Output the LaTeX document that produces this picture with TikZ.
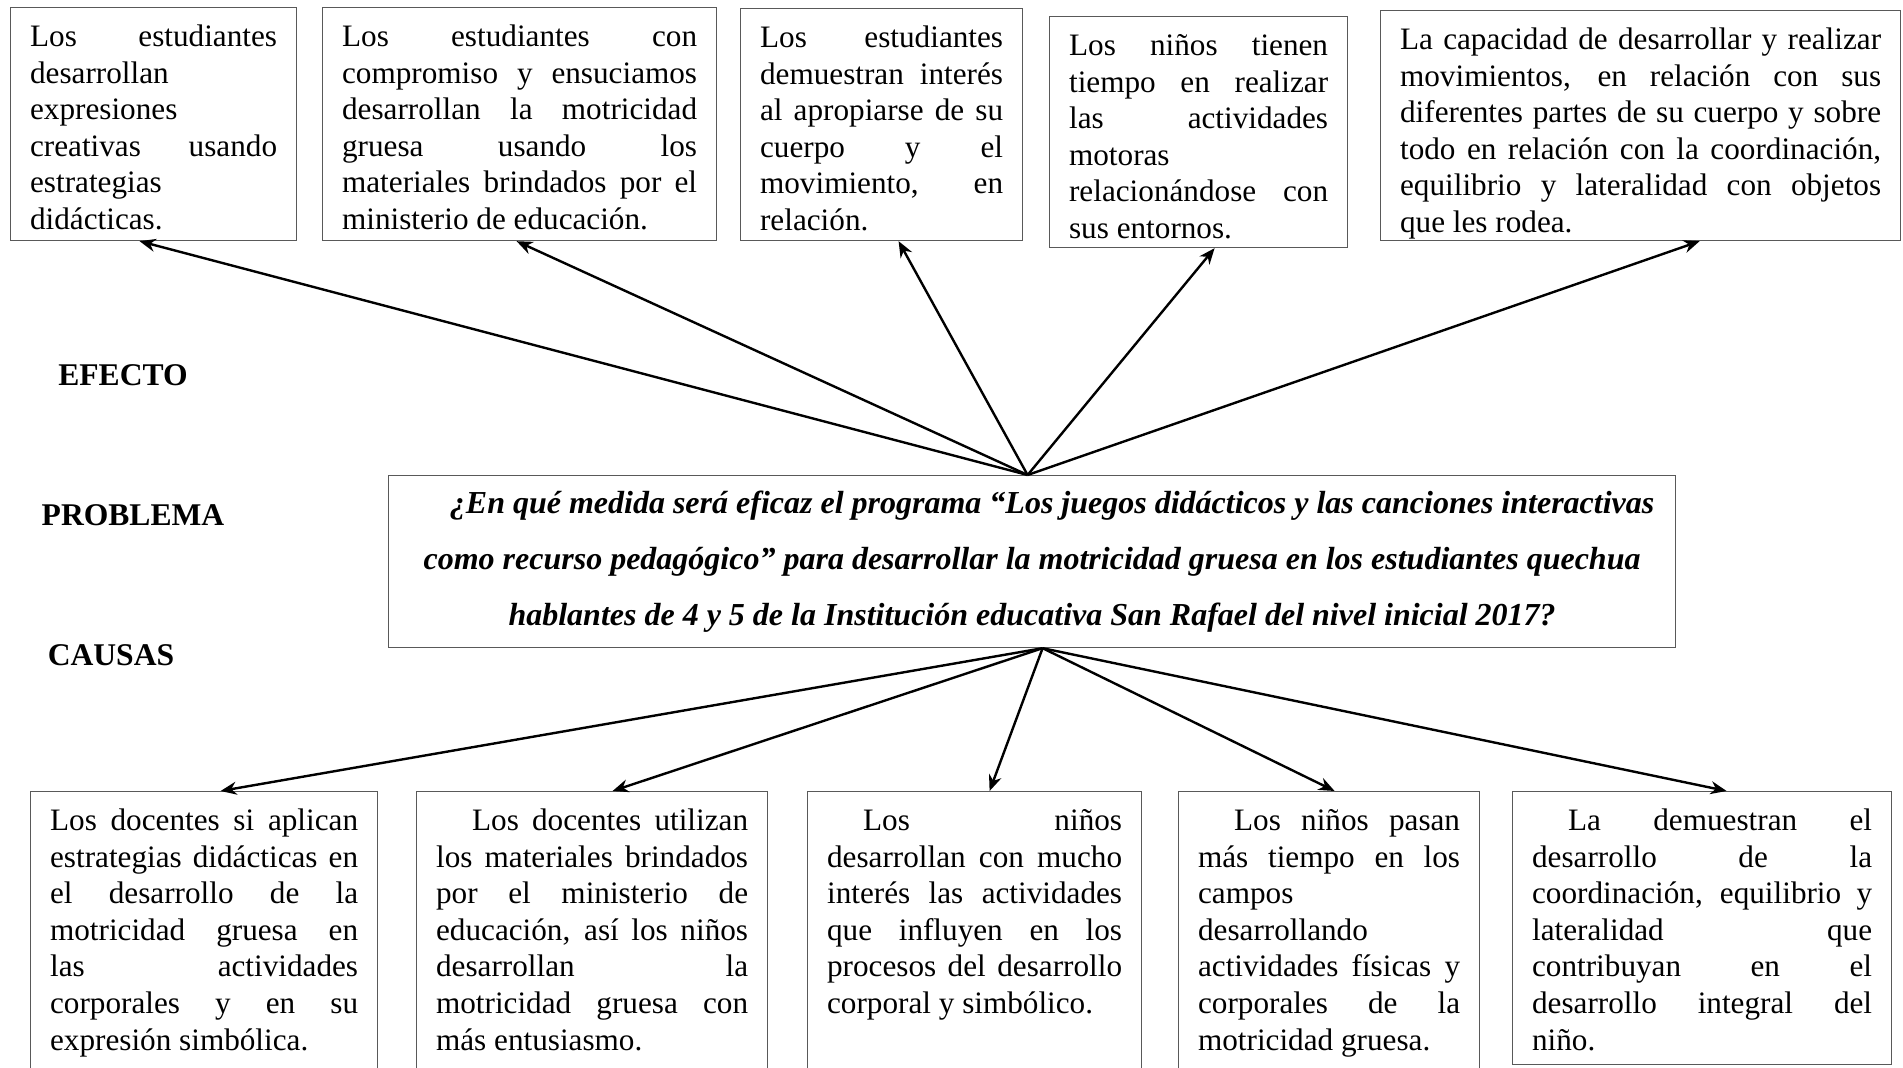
\documentclass[tikz,border=0pt]{standalone}
\usepackage{fontspec}
\setmainfont{Liberation Serif}
\usetikzlibrary{arrows.meta, positioning}
% text block of a box: width, height, text
\newcommand{\caja}[3]{\parbox[t][#2][t]{#1}{\fontsize{15.6}{18.3}\selectfont\rule{0pt}{17.5pt}#3}}
\newcommand{\sangria}{\hspace*{18pt}}
\hyphenpenalty=10000 \exhyphenpenalty=10000
\tolerance=9999 \hbadness=10000

\begin{document}
\begin{tikzpicture}[
    x=0.5pt, y=-0.5pt,
    every node/.style={font=\fontsize{15.6}{18.3}\selectfont},
    % Box styles
    efectobox/.style={
      rectangle, draw=black!65, line width=0.6pt,
      anchor=north west, inner xsep=9.75pt, inner ysep=2pt
    },
    causabox/.style={
      rectangle, draw=black!65, line width=0.6pt,
      anchor=north west, inner xsep=9.75pt, inner ysep=2pt
    },
    problembox/.style={
      rectangle, draw=black!65, line width=0.6pt,
      anchor=north west, inner xsep=1.75pt, inner ysep=2pt
    },
    etiqueta/.style={font=\fontsize{15.8}{18.3}\selectfont\bfseries},
    % Arrow style
    arr/.style={-{Stealth[length=8pt, width=6.5pt]}, line width=1.2pt}
  ]
  \useasboundingbox (0,0) rectangle (1903,1068);
  \clip (0,0) rectangle (1903,1068);

  % ============ Efectos (top) ============
  \node[efectobox] (t1) at (10,7) {\caja{123.5pt}{112.5pt}{%
    Los estudiantes\linebreak desarrollan\linebreak expresiones\linebreak
    creativas usando\linebreak estrategias\linebreak didácticas.}};
  \node[efectobox] (t2) at (322,7) {\caja{177.5pt}{112.5pt}{%
    Los estudiantes con\linebreak compromiso y ensuciamos\linebreak
    desarrollan la motricidad\linebreak gruesa usando los\linebreak
    materiales brindados por el\linebreak ministerio de educación.}};
  \node[efectobox] (t3) at (740,8) {\caja{121.5pt}{112pt}{%
    Los estudiantes\linebreak demuestran interés\linebreak al apropiarse de su\linebreak
    cuerpo y el\linebreak movimiento, en\linebreak relación.}};
  \node[efectobox] (t4) at (1049,16) {\caja{129.5pt}{111.5pt}{%
    Los niños tienen\linebreak tiempo en realizar\linebreak las actividades\linebreak
    motoras\linebreak relacionándose con\linebreak sus entornos.}};
  \node[efectobox] (t5) at (1380,10) {\caja{240.5pt}{111pt}{%
    La capacidad de desarrollar y realizar\linebreak movimientos, en relación con sus\linebreak
    diferentes partes de su cuerpo y sobre\linebreak todo en relación con la coordinación,\linebreak
    equilibrio y lateralidad con objetos\linebreak que les rodea.}};

  % ============ Labels ============
  \node[etiqueta] (efecto) at (123,375) {EFECTO};
  \node[etiqueta] (problema) at (133,515) {PROBLEMA};
  \node[etiqueta] (causas) at (111,655) {CAUSAS};

  % ============ Problema (middle) ============
  \node[problembox] (prob) at (388,475) {\parbox[t][82pt][t]{640pt}{%
    \fontsize{16}{28}\selectfont\bfseries\itshape\centering\rule{0pt}{17pt}%
    \hspace*{20pt}¿En qué medida será eficaz el programa “Los juegos didácticos y las canciones interactivas\\
    como recurso pedagógico” para desarrollar la motricidad gruesa en los estudiantes quechua\\
    hablantes de 4 y 5 de la Institución educativa San Rafael del nivel inicial 2017?}};

  % ============ Causas (bottom) ============
  \node[causabox] (b1) at (30,791) {\caja{154pt}{140.5pt}{%
    Los docentes si aplican\linebreak estrategias didácticas en\linebreak
    el desarrollo de la\linebreak motricidad gruesa en\linebreak las actividades\linebreak
    corporales y en su\linebreak expresión simbólica.}};
  \node[causabox] (b2) at (416,791) {\caja{156pt}{140.5pt}{%
    \sangria Los docentes utilizan\linebreak los materiales brindados\linebreak
    por el ministerio de\linebreak educación, así los niños\linebreak desarrollan la\linebreak
    motricidad gruesa con\linebreak más entusiasmo.}};
  \node[causabox] (b3) at (807,791) {\caja{147.5pt}{140.5pt}{%
    \sangria Los niños\linebreak desarrollan con mucho\linebreak interés las actividades\linebreak
    que influyen en los\linebreak procesos del desarrollo\linebreak corporal y simbólico.}};
  \node[causabox] (b4) at (1178,791) {\caja{131pt}{140.5pt}{%
    \sangria Los niños pasan\linebreak más tiempo en los\linebreak campos\linebreak
    desarrollando\linebreak actividades físicas y\linebreak corporales de la\linebreak
    motricidad gruesa.}};
  \node[causabox] (b5) at (1512,791) {\caja{170pt}{132.5pt}{%
    \sangria La demuestran el\linebreak desarrollo de la\linebreak
    coordinación, equilibrio y\linebreak lateralidad que\linebreak
    contribuyan en el\linebreak desarrollo integral del\linebreak niño.}};

  % ============ Arrows ============
  % Problema to efectos
  \draw[arr] ([xshift=-2.25pt]prob.north) -- ([xshift=-7pt]t1.south);
  \draw[arr] ([xshift=-2.25pt]prob.north) -- ([xshift=-1.5pt]t2.south);
  \draw[arr] ([xshift=-2.25pt]prob.north) -- ([xshift=8.5pt]t3.south);
  \draw[arr] ([xshift=-2.25pt]prob.north) -- ([xshift=8pt]t4.south);
  \draw[arr] ([xshift=-2.25pt]prob.north) -- ([xshift=29.5pt]t5.south);

  % Problema to causas
  \draw[arr] ([xshift=5.25pt]prob.south) -- ([xshift=8.25pt]b1.north);
  \draw[arr] ([xshift=5.25pt]prob.south) -- ([xshift=10.25pt]b2.north);
  \draw[arr] ([xshift=5.25pt]prob.south) -- ([xshift=7.5pt]b3.north);
  \draw[arr] ([xshift=5.25pt]prob.south) -- ([xshift=2.75pt]b4.north);
  \draw[arr] ([xshift=5.25pt]prob.south) -- ([xshift=12.25pt]b5.north);
\end{tikzpicture}
\end{document}
